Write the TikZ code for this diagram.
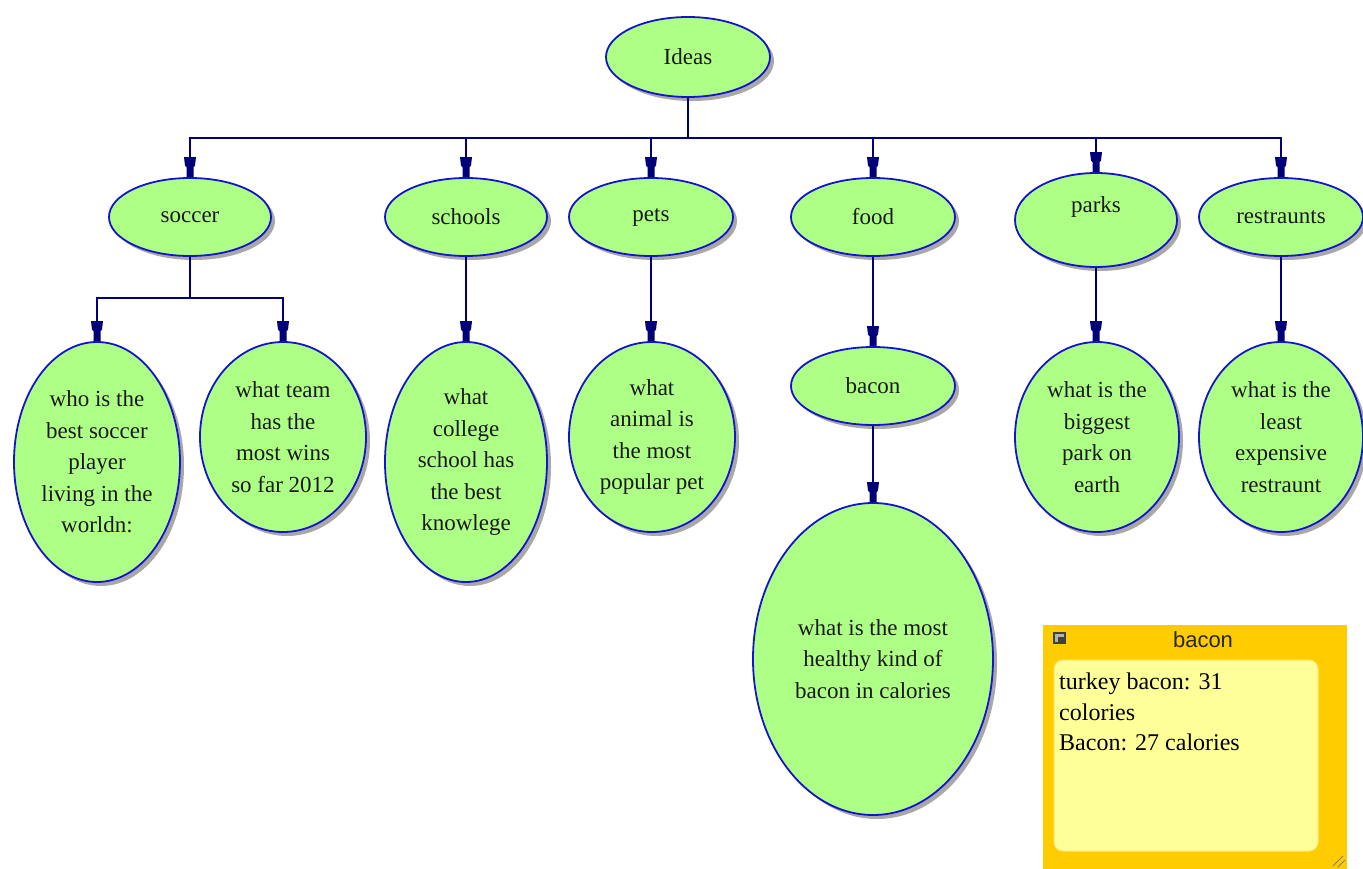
\documentclass[tikz,border=0pt]{standalone}
\usepackage{fontspec}
\setmainfont{Liberation Serif}
\newfontfamily\notesans{Liberation Sans}
\usetikzlibrary{shapes.geometric,arrows.meta,shadows}
\definecolor{bubblefill}{RGB}{174,255,134}
\definecolor{bubbleline}{RGB}{20,20,205}
\definecolor{connline}{RGB}{0,0,120}
\definecolor{noteorange}{RGB}{255,204,0}
\definecolor{noteyellow}{RGB}{255,255,153}
\definecolor{noteedge}{RGB}{255,230,120}
\pgfdeclarearrow{
  name = TeeTip,
  setup code = {
    \pgfarrowssettipend{0pt}
    \pgfarrowssetlineend{-14pt}
    \pgfarrowssetvisualbackend{-20pt}
    \pgfarrowshullpoint{0pt}{3.5pt}
    \pgfarrowshullpoint{0pt}{-3.5pt}
    \pgfarrowshullpoint{-20pt}{6pt}
    \pgfarrowshullpoint{-20pt}{-6pt}
  },
  drawing code = {
    \pgfpathmoveto{\pgfqpoint{0pt}{3.5pt}}
    \pgfpathlineto{\pgfqpoint{-10pt}{3.5pt}}
    \pgfpathlineto{\pgfqpoint{-11.5pt}{5pt}}
    \pgfpathlineto{\pgfqpoint{-20pt}{6pt}}
    \pgfpathlineto{\pgfqpoint{-20pt}{-6pt}}
    \pgfpathlineto{\pgfqpoint{-11.5pt}{-5pt}}
    \pgfpathlineto{\pgfqpoint{-10pt}{-3.5pt}}
    \pgfpathlineto{\pgfqpoint{0pt}{-3.5pt}}
    \pgfpathclose
    \pgfusepathqfill
  },
  defaults = {}
}
\tikzset{
  bubble/.style={ellipse, draw=bubbleline, line width=1.8pt, fill=bubblefill, inner sep=0pt,
    drop shadow={shadow xshift=4pt, shadow yshift=-4pt, fill=black!45, opacity=0.75}},
  lbl/.style={align=center, font=\fontsize{23}{31.5}\selectfont, text=black!90},
  conn/.style={draw=connline, line width=1.5pt, -{TeeTip}},
  notetext/.style={align=left, anchor=north west, font=\fontsize{24}{30.5}\selectfont, inner sep=0pt}
}
\begin{document}
\begin{tikzpicture}[x=1pt,y=-1pt]
\useasboundingbox (0,0) rectangle (1363,869);
\fill[white] (0,0) rectangle (1363,869);
% top
\node[bubble, minimum width=164pt, minimum height=80pt, label={[lbl]center:Ideas}] (ideas) at (688,57) {};
% level 1
\node[bubble, minimum width=162pt, minimum height=78pt, label={[lbl]center:soccer}] (soccer) at (190,217) {};
\node[bubble, minimum width=162pt, minimum height=78pt, label={[lbl]center:schools}] (schools) at (466,217) {};
\node[bubble, minimum width=164pt, minimum height=78pt, label={[lbl]center:pets}] (pets) at (651,217) {};
\node[bubble, minimum width=164pt, minimum height=78pt, label={[lbl]center:food}] (food) at (873,217) {};
\node[bubble, minimum width=162pt, minimum height=94pt, label={[lbl,yshift=13pt]center:parks}] (parks) at (1096,220) {};
\node[bubble, minimum width=164pt, minimum height=78pt, label={[lbl]center:restraunts}] (rest) at (1281,217) {};
% level 2
\node[bubble, minimum width=166pt, minimum height=240pt,
  label={[lbl]center:{who is the\\best soccer\\player\\living in the\\worldn:}}] (q1) at (97,462) {};
\node[bubble, minimum width=166pt, minimum height=190pt,
  label={[lbl]center:{what team\\has the\\most wins\\so far 2012}}] (q2) at (283,437) {};
\node[bubble, minimum width=162pt, minimum height=240pt,
  label={[lbl]center:{what\\college\\school has\\the best\\knowlege}}] (q3) at (466,462) {};
\node[bubble, minimum width=166pt, minimum height=190pt,
  label={[lbl]center:{what\\animal is\\the most\\popular pet}}] (q4) at (652,437) {};
\node[bubble, minimum width=164pt, minimum height=78pt, label={[lbl]center:bacon}] (bacon) at (873,386) {};
\node[bubble, minimum width=240pt, minimum height=312pt,
  label={[lbl]center:{what is the most\\healthy kind of\\bacon in calories}}] (q5) at (873,659) {};
\node[bubble, minimum width=164pt, minimum height=190pt,
  label={[lbl]center:{what is the\\biggest\\park on\\earth}}] (q6) at (1097,437) {};
\node[bubble, minimum width=164pt, minimum height=190pt,
  label={[lbl]center:{what is the\\least\\expensive\\restraunt}}] (q7) at (1281,437) {};
% connectors
\coordinate (bus) at (688,138);
\coordinate (sbus) at (190,298);
\foreach \n in {soccer,schools,pets,food,parks,rest}
  \draw[conn] (ideas.south) -- (bus) -| (\n.north);
\draw[conn] (soccer.south) -- (sbus) -| (q1.north);
\draw[conn] (soccer.south) -- (sbus) -| (q2.north);
\draw[conn] (schools.south) -- (q3.north);
\draw[conn] (pets.south) -- (pets.south |- q4.north);
\draw[conn] (food.south) -- (bacon.north);
\draw[conn] (bacon.south) -- (q5.north);
\draw[conn] (parks.south) -- (parks.south |- q6.north);
\draw[conn] (rest.south) -- (q7.north);
% note
\fill[noteorange] (1043,625) rectangle (1347,869);
\draw[noteedge, line width=1pt, fill=noteyellow, rounded corners=9pt] (1054,660) rectangle (1318,851);
\node[font=\notesans\fontsize{22}{26}\selectfont, text=black!85] (notetitle) at (1203,640) {bacon};
\fill[black!75] (1053,632) rectangle (1066,644);
\fill[black!30] (1055,634) rectangle (1064,637);
\fill[black!30] (1055,634) rectangle (1058,642);
\node[notetext] (notebody) at (1059,673) {turkey bacon: 31\\colories\\Bacon: 27 calories};
\draw[black!50, line width=0.8pt] (1333,866) -- (1343,856) (1338,867) -- (1345,860);
\end{tikzpicture}
\end{document}
